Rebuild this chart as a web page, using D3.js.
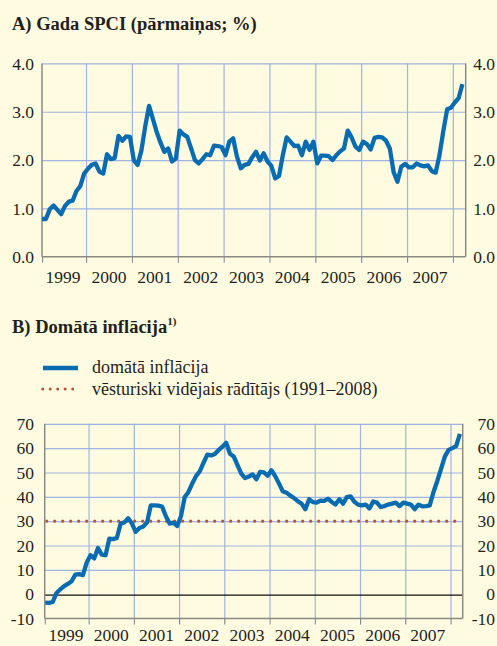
<!DOCTYPE html>
<html>
<head>
<meta charset="utf-8">
<script src="https://cdn.jsdelivr.net/npm/d3@7"></script>
<style>
  html, body { margin: 0; padding: 0; background: #fffbe0; }
  svg { display: block; }
</style>
</head>
<body>
<svg id="chart" width="497" height="646"></svg>
<script>
// monthly data, Jan 1999 .. Mar 2008
var years = ["1999", "2000", "2001", "2002", "2003", "2004", "2005", "2006", "2007"];
var yearStarts = [2000, 2001, 2002, 2003, 2004, 2005, 2006, 2007, 2008];

var hicp = [
  0.78, 0.78, 0.98, 1.06, 0.97, 0.88, 1.05, 1.14, 1.16, 1.36, 1.46, 1.72,
  1.82, 1.90, 1.93, 1.76, 1.72, 2.12, 2.02, 2.04, 2.50, 2.40, 2.49, 2.48,
  2.00, 1.90, 2.20, 2.70, 3.12, 2.85, 2.58, 2.36, 2.17, 2.24, 1.97, 2.03,
  2.61, 2.53, 2.48, 2.24, 2.00, 1.93, 2.02, 2.12, 2.10, 2.30, 2.29, 2.27,
  2.10, 2.38, 2.45, 2.07, 1.83, 1.90, 1.92, 2.06, 2.17, 1.99, 2.14, 1.97,
  1.88, 1.62, 1.67, 2.10, 2.47, 2.38, 2.29, 2.30, 2.10, 2.38, 2.21, 2.38,
  1.93, 2.09, 2.09, 2.08, 2.00, 2.10, 2.18, 2.24, 2.61, 2.47, 2.28, 2.21,
  2.38, 2.33, 2.22, 2.46, 2.48, 2.47, 2.40, 2.24, 1.75, 1.55, 1.86, 1.92,
  1.85, 1.85, 1.93, 1.89, 1.87, 1.89, 1.77, 1.74, 2.10, 2.60, 3.05, 3.08,
  3.19, 3.28, 3.57
];

var perceived = [
  -3.5, -3.6, -3.2, 0.5, 2.0, 3.3, 4.2, 5.3, 8.0, 8.2, 7.8, 13.0,
  16.0, 14.7, 19.0, 16.2, 16.0, 22.8, 22.6, 23.1, 29.0, 29.5, 31.2, 29.0,
  25.6, 27.2, 27.8, 29.4, 36.5, 36.5, 36.4, 36.0, 32.0, 29.0, 29.4, 28.0,
  32.0, 39.9, 42.0, 45.5, 48.5, 50.5, 54.0, 57.3, 57.0, 57.6, 59.2, 60.6,
  62.2, 57.7, 56.6, 53.0, 49.5, 47.7, 48.3, 49.2, 47.2, 50.2, 50.0, 48.7,
  50.9, 48.5, 45.5, 42.3, 41.7, 40.5, 39.5, 38.2, 37.2, 34.9, 39.0, 37.8,
  37.6, 38.4, 38.3, 39.2, 37.9, 36.8, 39.0, 37.2, 39.9, 40.2, 38.0, 36.8,
  36.5, 36.8, 35.2, 38.1, 37.6, 35.8, 36.2, 36.8, 37.2, 37.6, 36.2, 37.6,
  37.2, 36.8, 34.9, 36.8, 36.1, 36.2, 36.5, 42.0, 46.5, 51.5, 56.5, 59.3,
  60.0, 60.8, 65.9
];

var histAvg = 30;

var ticksA = [0, 1, 2, 3, 4];
var ticksB = [-10, 0, 10, 20, 30, 40, 50, 60, 70];

var legendLabels = ["domātā inflācija", "vēsturiski vidējais rādītājs (1991–2008)"];

var blue = "#0a6cb0",
    grid = "#9fb4e2",
    axisCol = "#8a8a85",
    textCol = "#231f20",
    dotCol = "#b8543c",
    serif = "'Liberation Serif', 'Times New Roman', serif";

var svg = d3.select("#chart");

function monthPos(d, i) { return 1999 + (i + 0.5) / 12; }

function BuildPanel(opts) {
  var x = d3.scaleLinear().domain(opts.xDomain).range(opts.xRange),
      y = d3.scaleLinear().domain(opts.yDomain).range(opts.yRange);
  var left = opts.xRange[0], right = opts.xRange[1],
      top = opts.yRange[1], bottom = opts.yRange[0];

  var g = svg.append("g");

  // horizontal grid
  g.append("g")
   .attr("transform", "translate(" + left + ",0)")
   .call(d3.axisLeft(y).tickValues(opts.gridY).tickSize(-(right - left)).tickFormat(""))
   .call(function(s) {
     s.select(".domain").remove();
     s.selectAll("line").attr("stroke", grid).attr("stroke-width", 1.2);
   });

  // vertical grid at year boundaries
  g.append("g")
   .attr("transform", "translate(0," + bottom + ")")
   .call(d3.axisBottom(x).tickValues(yearStarts).tickSize(-(bottom - top)).tickFormat(""))
   .call(function(s) {
     s.select(".domain").remove();
     s.selectAll("line").attr("stroke", grid).attr("stroke-width", 1.2);
   });

  if (opts.zeroLine) {
    g.append("line")
     .attr("x1", left).attr("x2", right)
     .attr("y1", y(0) + 1).attr("y2", y(0) + 1)
     .attr("stroke", "#111").attr("stroke-width", 1.4);
  }

  if (opts.avg != null) {
    g.append("line")
     .attr("x1", left + 2).attr("x2", right - 6)
     .attr("y1", y(opts.avg)).attr("y2", y(opts.avg))
     .attr("stroke", dotCol).attr("stroke-width", 3.2)
     .attr("stroke-linecap", "round")
     .attr("stroke-dasharray", "0 8");
  }

  // frame: left, right
  g.append("line").attr("x1", left).attr("x2", left).attr("y1", top).attr("y2", bottom)
   .attr("stroke", axisCol).attr("stroke-width", 1.5);
  g.append("line").attr("x1", right).attr("x2", right).attr("y1", top).attr("y2", bottom)
   .attr("stroke", axisCol).attr("stroke-width", 1.5);

  // bottom axis with year ticks and centered labels
  var xa = g.append("g")
   .attr("transform", "translate(0," + bottom + ")")
   .call(d3.axisBottom(x).tickValues([opts.xDomain[0]].concat(yearStarts)).tickSize(6).tickFormat(""));
  xa.select(".domain").attr("d", "M" + left + ",0H" + right).attr("stroke", axisCol).attr("stroke-width", 1.5);
  xa.selectAll(".tick line").attr("stroke", axisCol).attr("stroke-width", 1.2);
  xa.selectAll(".tick").append("line")
    .attr("x1", -1.3).attr("x2", -1.3).attr("y1", 1).attr("y2", 6)
    .attr("stroke", "#fff").attr("stroke-width", 1);

  g.selectAll(".yr")
   .data(years)
   .enter().append("text")
   .attr("x", function(d) { return x(+d + 0.5); })
   .attr("y", opts.yearY)
   .attr("text-anchor", "middle")
   .attr("font-family", serif)
   .attr("font-size", "17.5px")
   .attr("fill", textCol)
   .text(function(d) { return d; });

  // y labels both sides
  [34, 495].forEach(function(px) {
    g.selectAll(null)
     .data(opts.ticks)
     .enter().append("text")
     .attr("x", px)
     .attr("y", function(d) { return y(d); })
     .attr("dy", "0.36em")
     .attr("text-anchor", "end")
     .attr("font-family", serif)
     .attr("font-size", "17.5px")
     .attr("fill", textCol)
     .text(function(d) { return opts.fmt(d); });
  });

  var line = d3.line()
    .x(function(d, i) { return x(monthPos(d, i)); })
    .y(function(d) { return y(d); });

  g.append("path")
   .datum(opts.data)
   .attr("d", line)
   .attr("fill", "none")
   .attr("stroke", blue)
   .attr("stroke-width", 4.3)
   .attr("stroke-linejoin", "round");
}

// titles
svg.append("text")
   .attr("x", 12).attr("y", 30)
   .attr("font-family", serif).attr("font-size", "18.5px").attr("font-weight", "bold")
   .attr("fill", textCol)
   .text("A) Gada SPCI (pārmaiņas; %)");

var tB = svg.append("text")
   .attr("x", 12).attr("y", 333)
   .attr("font-family", serif).attr("font-size", "18.5px").attr("font-weight", "bold")
   .attr("fill", textCol);
tB.append("tspan").text("B) Domātā inflācija");
tB.append("tspan").attr("dy", -8).attr("font-size", "11px").text("1)");

BuildPanel({
  xDomain: [1999.04, 2008.28], xRange: [42, 465.7],
  yDomain: [0, 4], yRange: [256.7, 63.4],
  gridY: [1, 2, 3, 4],
  ticks: ticksA,
  fmt: d3.format(".1f"),
  yearY: 283,
  data: hicp
});

BuildPanel({
  xDomain: [1999.03, 2008.27], xRange: [44.7, 462.7],
  yDomain: [-10, 70], yRange: [618.5, 423.8],
  gridY: [10, 20, 30, 40, 50, 60, 70],
  ticks: ticksB,
  fmt: function(d) { return d; },
  yearY: 641,
  zeroLine: true,
  avg: histAvg,
  data: perceived
});

// legend
var lg = svg.append("g");
lg.append("line").attr("x1", 43).attr("x2", 78).attr("y1", 368).attr("y2", 368)
  .attr("stroke", blue).attr("stroke-width", 4.5);
lg.append("line").attr("x1", 42.7).attr("x2", 74).attr("y1", 389).attr("y2", 389)
  .attr("stroke", dotCol).attr("stroke-width", 3)
  .attr("stroke-linecap", "round").attr("stroke-dasharray", "0 7.5");
lg.selectAll(".lt")
  .data(legendLabels)
  .enter().append("text")
  .attr("x", 92)
  .attr("y", function(d, i) { return 373 + i * 22; })
  .attr("font-family", serif).attr("font-size", "18px")
  .attr("fill", textCol)
  .text(function(d) { return d; });
</script>
</body>
</html>
